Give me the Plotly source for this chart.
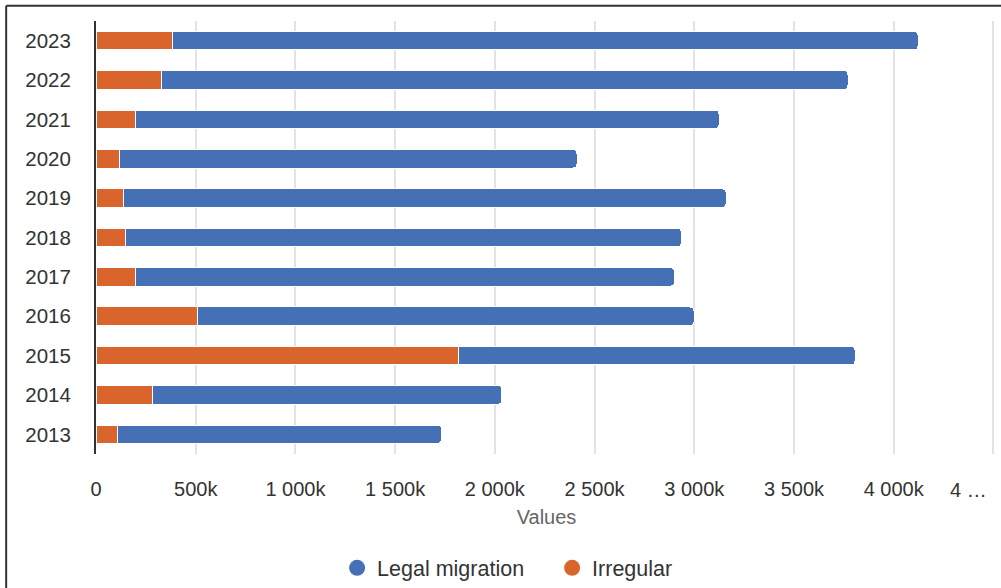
import plotly.graph_objects as go

years = ["2013", "2014", "2015", "2016", "2017", "2018", "2019", "2020", "2021", "2022", "2023"]
irregular = [106000, 283000, 1820000, 511000, 200000, 150000, 140000, 120000, 200000, 326000, 386000]
totals = [1732000, 2035000, 3806000, 2999000, 2900000, 2935000, 3160000, 2412000, 3124000, 3771000, 4122000]
legal = [t - i for t, i in zip(totals, irregular)]

tick_vals = [0, 500000, 1000000, 1500000, 2000000, 2500000, 3000000, 3500000, 4000000, 4500000]
tick_text = ["0", "500k", "1 000k", "1 500k", "2 000k", "2 500k", "3 000k", "3 500k", "4 000k", "4 …"]

BLUE = "#4670B5"
ORANGE = "#D9652D"
FONT = "Liberation Sans, Arial, sans-serif"

fig = go.Figure()
fig.add_trace(go.Bar(y=years, x=irregular, orientation="h", name="Irregular",
                     marker=dict(color=ORANGE, line=dict(color="white", width=1)),
                     showlegend=False))
fig.add_trace(go.Bar(y=years, x=legal, orientation="h", name="Legal migration",
                     marker=dict(color=BLUE, line=dict(color="white", width=1)),
                     showlegend=False))
# legend entries with circle markers
fig.add_trace(go.Scatter(x=[None], y=[None], mode="markers", name="Legal migration",
                         marker=dict(color=BLUE, size=21, symbol="circle")))
fig.add_trace(go.Scatter(x=[None], y=[None], mode="markers", name="Irregular",
                         marker=dict(color=ORANGE, size=21, symbol="circle")))

# last tick label is clipped at the right edge in the original, so it is placed right-aligned
shown_text = tick_text[:-1] + [""]

fig.update_layout(
    width=1001, height=588,
    margin=dict(l=96, r=4, t=21, b=134, autoexpand=False),
    barmode="stack", bargap=0.53, barcornerradius=4,
    plot_bgcolor="white", paper_bgcolor="white",
    font=dict(family=FONT, color="#333333"),
    legend=dict(orientation="h", x=0.2676, xanchor="left", y=-0.263, yanchor="middle",
                traceorder="normal", entrywidth=170, entrywidthmode="pixels",
                font=dict(size=21.5, color="#333333"), itemwidth=30, tracegroupgap=0),
    shapes=[
        dict(type="line", xref="paper", yref="paper", x0=-0.0997, x1=-0.0997, y0=1.035, y1=-0.32,
             line=dict(color="#333333", width=2)),
        dict(type="line", xref="paper", yref="paper", x0=-0.0997, x1=1.01, y0=1.035, y1=1.035,
             line=dict(color="#333333", width=2)),
    ],
    annotations=[
        dict(x=tick_vals[-1], xref="x", y=0, yref="paper", yshift=-36, xshift=-4,
             text=tick_text[-1], showarrow=False, xanchor="right", yanchor="middle",
             font=dict(size=20, color="#333333")),
    ],
)
fig.update_xaxes(range=[0, 4518000], tickvals=tick_vals, ticktext=shown_text,
                 showgrid=True, gridcolor="#e3e3e3", gridwidth=1.5, zeroline=False,
                 tickfont=dict(size=20, color="#333333"), ticks="", ticklabelstandoff=21,
                 title=dict(text="Values", font=dict(size=20, color="#666666"), standoff=10),
                 fixedrange=True)
fig.update_yaxes(categoryorder="array", categoryarray=years, showline=True,
                 linecolor="#333333", linewidth=2, showgrid=False,
                 tickfont=dict(size=20.5, color="#333333"), ticks="", ticklabelstandoff=19)

fig.write_html("out.html")
